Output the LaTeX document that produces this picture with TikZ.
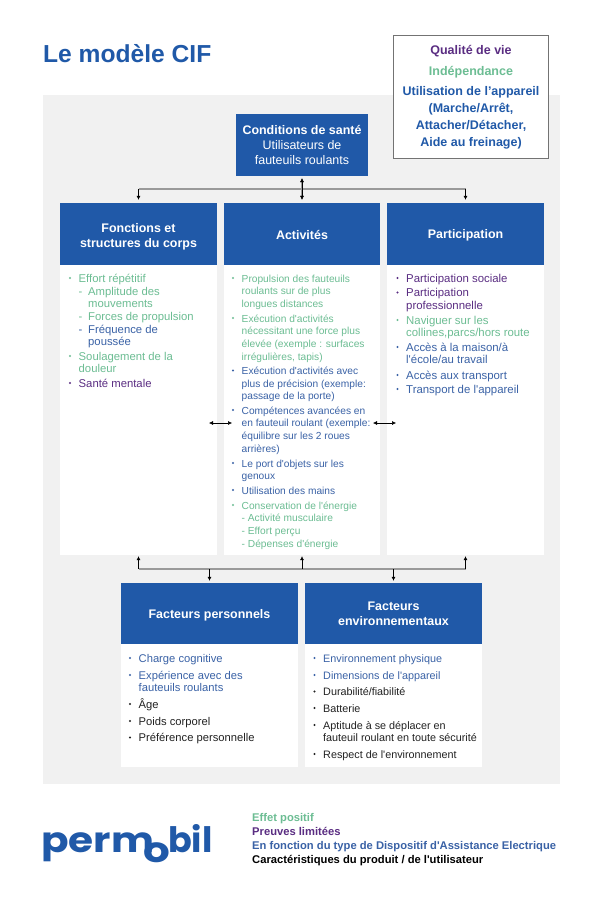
\documentclass[tikz,border=0pt]{standalone}
\usepackage{fontspec}
\defaultfontfeatures[\rmfamily]{}
\setmainfont{Liberation Sans}
\newfontfamily\logofont[FakeStretch=1.16]{Poppins}
\newfontfamily\logofontb{Poppins}
\newfontfamily\logofonto[FakeStretch=1.2]{Poppins}
\usetikzlibrary{arrows.meta}
\definecolor{pblue}{HTML}{2059A8}
\definecolor{lblue}{HTML}{3A62A6}
\definecolor{lgreen}{HTML}{6CBD93}
\definecolor{lpurple}{HTML}{5A2D82}
\definecolor{ltext}{HTML}{222222}
\definecolor{bggray}{HTML}{F1F1F1}
\definecolor{busgray}{HTML}{9A9A9A}
\newcommand{\lsize}{10.7}
\tikzset{
  hd/.style={fill=pblue,text=white,inner sep=0,align=center,font=\fontsize{12.45}{15}\selectfont\bfseries},
  panel/.style={fill=white,inner sep=0},
  litem/.style={anchor=north west,inner sep=0,align=left,font=\fontsize{\lsize}{12.6}\selectfont},
  bulletdot/.style={circle,inner sep=0,minimum size=2.2pt},
  bus/.style={draw=busgray,line width=1.1pt},
  arr/.style={black,line width=0.5pt,-{Latex[length=4pt,width=4pt]}},
  arrb/.style={black,line width=0.5pt,{Latex[length=4pt,width=4pt]}-{Latex[length=4pt,width=4pt]}},
  toptext/.style={font=\fontsize{12.5}{17}\selectfont\bfseries,inner sep=0,align=center},
  legend/.style={anchor=base west,inner sep=0,font=\fontsize{11.2}{13}\selectfont\bfseries},
  logo/.style={anchor=base west,inner sep=0,text=pblue,font=\logofont\fontsize{35}{35}\selectfont\bfseries},
  logob/.style={anchor=base west,inner sep=0,text=pblue,font=\logofontb\fontsize{35}{35}\selectfont\bfseries},
  logoo/.style={anchor=base west,inner sep=0,text=pblue,font=\logofonto\fontsize{35}{35}\selectfont\bfseries}
}
% name, text x, baseline y, colour, text
\newcommand{\listentry}[5]{%
  \node[bulletdot,fill=#4] (#1-b) at (#2-8.5,#3-4) {};
  \node[litem,text=#4] (#1) at (#2,#3-10) {\rule{0pt}{10pt}#5};
}
\begin{document}
\begin{tikzpicture}[x=1pt,y=-1pt]
\useasboundingbox (0,0) rectangle (600,904);
\fill[white] (0,0) rectangle (600,904);
\node[anchor=south west,inner sep=0,minimum width=517pt,minimum height=689pt,fill=bggray] (bg) at (43,784) {};
\node[anchor=base west,inner sep=0,text=pblue,font=\fontsize{24.6}{28}\selectfont\bfseries] (title) at (43,63) {Le modèle CIF};

% top-right box
\node[draw=black!55,fill=white,line width=0.7pt,minimum width=155pt,minimum height=123pt,inner sep=0] (qbox) at (471,96.5) {};
\node[toptext,text=lpurple] (q1) at (471,51) {Qualité de vie};
\node[toptext,text=lgreen] (q2) at (471,72) {Indépendance};
\node[toptext,text=pblue] (q3) at (471,117.5) {Utilisation de l’appareil\\(Marche/Arrêt,\\Attacher/Détacher,\\Aide au freinage)};

% headers
\node[hd,minimum width=132pt,minimum height=62pt] (cond) at (302,145) {Conditions de santé\\\normalfont Utilisateurs de\\\normalfont fauteuils roulants};
\node[hd,minimum width=157pt,minimum height=62pt] (h1) at (138.5,234) {\rule{0pt}{14pt}Fonctions et\\structures du corps};
\node[hd,minimum width=156pt,minimum height=62pt] (h2) at (302,234) {\rule{0pt}{12pt}Activités};
\node[hd,minimum width=157pt,minimum height=62pt] (h3) at (465.5,234) {\rule{0pt}{12pt}Participation};
\node[panel,minimum width=157pt,minimum height=290pt] (p1) at (138.5,410) {};
\node[panel,minimum width=156pt,minimum height=290pt] (p2) at (302,410) {};
\node[panel,minimum width=157pt,minimum height=290pt] (p3) at (465.5,410) {};
\node[hd,minimum width=177pt,minimum height=61pt] (h4) at (209.5,613.5) {\rule{0pt}{13pt}Facteurs personnels};
\node[hd,minimum width=177pt,minimum height=61pt] (h5) at (393.5,613.5) {Facteurs\\environnementaux};
\node[panel,minimum width=177pt,minimum height=123pt] (p4) at (209.5,705.5) {};
\node[panel,minimum width=177pt,minimum height=123pt] (p5) at (393.5,705.5) {};

% connectors
\coordinate (tl) at (h1.north |- 0,189);
\coordinate (tr) at (h3.north |- 0,189);
\coordinate (bl) at (p1.south |- 0,569);
\coordinate (br) at (p3.south |- 0,569);
\coordinate (bm) at (p2.south |- 0,569);
\coordinate (b4) at (h4.north |- 0,569);
\coordinate (b5) at (h5.north |- 0,569);
\draw[bus] (tl) -- (tr);
\draw[bus] (bl) -- (br);
\draw[bus,shorten >=4pt,shorten <=3pt] (cond.south) -- (h2.north);
\draw[arr,shorten >=3pt] (tl) -- (h1.north);
\draw[arr,shorten >=3pt] (tr) -- (h3.north);
\draw[arrb,shorten >=3pt,shorten <=2pt,line width=0.3pt] (cond.south) -- (h2.north);
\draw[arr,shorten >=1pt] (bl) -- (p1.south);
\draw[arr,shorten >=1pt] (bm) -- (p2.south);
\draw[arr,shorten >=1pt] (br) -- (p3.south);
\draw[arr,shorten >=2pt] (b4) -- (h4.north);
\draw[arr,shorten >=2pt] (b5) -- (h5.north);
\coordinate (s1) at (209,423); \coordinate (s2) at (232,423);
\coordinate (s3) at (373,423); \coordinate (s4) at (396,423);
\draw[arrb] (s1) -- (s2);
\draw[arrb] (s3) -- (s4);

% column 1
\renewcommand{\lsize}{11.3}
\listentry{a1}{78.5}{282}{lgreen}{Effort répétitif}
\node[litem,text=lgreen] (a1a) at (78.5,285) {\rule{0pt}{10pt}-};
\node[litem,text=lgreen] (a1b) at (88,285) {\rule{0pt}{10pt}Amplitude des\\mouvements};
\node[litem,text=lgreen] (a1c) at (78.5,310) {\rule{0pt}{10pt}-};
\node[litem,text=lgreen] (a1d) at (88,310) {\rule{0pt}{10pt}Forces de propulsion};
\node[litem,text=lblue] (a1e) at (78.5,323) {\rule{0pt}{10pt}-};
\node[litem,text=lblue] (a1f) at (88,323) {\rule{0pt}{10pt}Fréquence de\\poussée};
\listentry{a2}{78.5}{360}{lgreen}{Soulagement de la\\douleur}
\listentry{a3}{78.5}{387}{lpurple}{Santé mentale}

% column 2
\renewcommand{\lsize}{10.2}
\listentry{b1}{241.5}{282}{lgreen}{Propulsion des fauteuils\\roulants sur de plus\\longues distances}
\listentry{b2}{241.5}{322}{lgreen}{Exécution d'activités\\nécessitant une force plus\\élevée (exemple : surfaces\\irrégulières, tapis)}
\listentry{b3}{241.5}{374.5}{lblue}{Exécution d'activités avec\\plus de précision (exemple:\\passage de la porte)}
\listentry{b4}{241.5}{414}{lblue}{Compétences avancées en\\en fauteuil roulant (exemple:\\équilibre sur les 2 roues\\arrières)}
\listentry{b5}{241.5}{467}{lblue}{Le port d'objets sur les\\genoux}
\listentry{b6}{241.5}{494}{lblue}{Utilisation des mains}
\listentry{b7}{241.5}{509}{lgreen}{Conservation de l'énergie\\- Activité musculaire\\- Effort perçu\\- Dépenses d'énergie}

% column 3
\renewcommand{\lsize}{11.4}
\listentry{c1}{406}{282}{lpurple}{Participation sociale}
\listentry{c2}{406}{296.5}{lpurple}{Participation\\professionnelle}
\listentry{c3}{406}{324}{lgreen}{Naviguer sur les\\collines,parcs/hors route}
\listentry{c4}{406}{351}{lblue}{Accès à la maison/à\\l'école/au travail}
\listentry{c5}{406}{379}{lblue}{Accès aux transport}
\listentry{c6}{406}{393}{lblue}{Transport de l'appareil}

% lower left
\renewcommand{\lsize}{11.2}
\listentry{d1}{138.5}{662}{lblue}{Charge cognitive}
\listentry{d2}{138.5}{679}{lblue}{Expérience avec des\\fauteuils roulants}
\listentry{d3}{138.5}{708}{ltext}{Âge}
\listentry{d4}{138.5}{725}{ltext}{Poids corporel}
\listentry{d5}{138.5}{741.5}{ltext}{Préférence personnelle}

% lower right
\renewcommand{\lsize}{10.8}
\listentry{e1}{323}{662}{lblue}{Environnement physique}
\listentry{e2}{323}{679}{lblue}{Dimensions de l'appareil}
\listentry{e3}{323}{695.5}{ltext}{Durabilité/fiabilité}
\listentry{e4}{323}{712}{ltext}{Batterie}
\listentry{e5}{323}{729}{ltext}{Aptitude à se déplacer en\\fauteuil roulant en toute sécurité}
\listentry{e6}{323}{758}{ltext}{Respect de l'environnement}

% legend
\node[legend,text=lgreen] (l1) at (252,821) {Effet positif};
\node[legend,text=lpurple] (l2) at (252,835.5) {Preuves limitées};
\node[legend,text=lblue] (l3) at (252,849.5) {En fonction du type de Dispositif d'Assistance Electrique};
\node[legend,text=black] (l4) at (252,863.5) {Caractéristiques du produit / de l'utilisateur};

% logo
\node[logo] (lg1) at (41,852) {perm};
\node[logoo] (lg2) at (143,862) {o};
\node[logob] (lg3) at (168,852) {bil};
\end{tikzpicture}
\end{document}
